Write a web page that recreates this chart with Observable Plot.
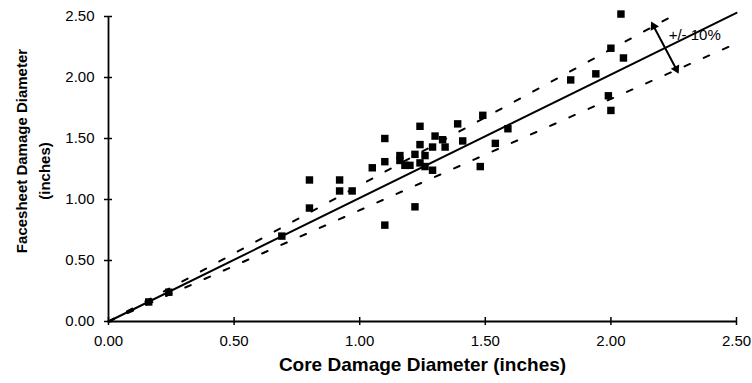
<!DOCTYPE html>
<html><head><meta charset="utf-8">
<script src="https://cdn.jsdelivr.net/npm/d3@7"></script>
<script src="https://cdn.jsdelivr.net/npm/@observablehq/plot@0.6"></script>
<style>body{margin:0;background:#fff} svg{display:block}</style>
</head><body><div id="chart"></div>
<script>
// Measured damage diameters (inches)
const coreDiameter = [0.16, 0.24, 0.69, 0.80, 0.80, 0.92, 0.92, 0.97, 1.05, 1.10, 1.10, 1.10,
  1.16, 1.16, 1.18, 1.20, 1.22, 1.22, 1.24, 1.24, 1.24, 1.26, 1.26, 1.30, 1.29, 1.29,
  1.33, 1.34, 1.39, 1.41, 1.48, 1.49, 1.54, 1.59, 1.84, 1.94, 1.99, 2.00, 2.00, 2.04, 2.05];
const facesheetDiameter = [0.16, 0.24, 0.70, 1.16, 0.93, 1.16, 1.07, 1.07, 1.26, 1.50, 1.31, 0.79,
  1.36, 1.32, 1.28, 1.28, 1.37, 0.94, 1.60, 1.45, 1.30, 1.27, 1.36, 1.52, 1.43, 1.24,
  1.49, 1.43, 1.62, 1.48, 1.27, 1.69, 1.46, 1.58, 1.98, 2.03, 1.85, 1.73, 2.24, 2.52, 2.16];

// Reference line and +/- 10% band
const fitX = [0, 2.5];
const fitY = [0, 2.53];
const upperX = [0, 2.25];
const upperY = [0, 2.51];
const lowerX = [0, 2.5];
const lowerY = [0, 2.28];

// Band annotation arrow (ends on the dashed lines)
const arrowX = [2.17, 2.26];
const arrowY = [2.42, 2.07];
const arrowRotate = [-27, 153];
const bandLabel = "+/- 10%";
const bandLabelX = 2.23;
const bandLabelY = 2.35;

const xTicks = [0, 0.5, 1.0, 1.5, 2.0, 2.5];
const yTicks = [0, 0.5, 1.0, 1.5, 2.0, 2.5];
const xTitle = "Core Damage Diameter (inches)";
const yTitleLines = ["Facesheet Damage Diameter", "(inches)"];

const points = coreDiameter.map((x, i) => ({x, y: facesheetDiameter[i]}));
const toXY = (xs, ys) => xs.map((x, i) => ({x, y: ys[i]}));
const fmt = d3.format(".2f");

const plot = Plot.plot({
  width: 752, height: 383,
  marginLeft: 108, marginRight: 16, marginTop: 16, marginBottom: 62,
  x: {domain: [0, 2.5]},
  y: {domain: [0, 2.5]},
  style: {fontFamily: "'Liberation Sans', Arial, Helvetica, sans-serif", color: "#000", background: "#fff", overflow: "visible"},
  marks: [
    Plot.ruleY([0], {strokeWidth: 1.8}),
    Plot.ruleX([0], {strokeWidth: 1.8}),
    Plot.axisX({ticks: xTicks, tickSize: 8, dy: -4, tickPadding: 10, tickFormat: fmt, fontSize: 15, strokeWidth: 1.5, label: null}),
    Plot.axisY({ticks: yTicks, tickSize: 8, dx: 4, tickPadding: 10, tickFormat: fmt, fontSize: 15, strokeWidth: 1.5, label: null}),
    Plot.line(toXY(fitX, fitY), {x: "x", y: "y", stroke: "#000", strokeWidth: 2}),
    Plot.line(toXY(upperX, upperY), {x: "x", y: "y", stroke: "#000", strokeWidth: 2, strokeDasharray: "6,15"}),
    Plot.line(toXY(lowerX, lowerY), {x: "x", y: "y", stroke: "#000", strokeWidth: 2, strokeDasharray: "6,15"}),
    Plot.dot(points, {x: "x", y: "y", symbol: "square", r: 4.2, fill: "#000", stroke: null}),
    Plot.line(toXY(arrowX, arrowY), {x: "x", y: "y", stroke: "#000", strokeWidth: 2}),
    Plot.dot(arrowX.map((x, i) => ({x, y: arrowY[i], r: arrowRotate[i]})), {x: "x", y: "y", rotate: "r", symbol: "triangle2", r: 4.5, fill: "#000", stroke: null}),
    Plot.text([{x: bandLabelX, y: bandLabelY, t: bandLabel}], {x: "x", y: "y", text: "t", textAnchor: "start", fontSize: 15, fill: "#000"}),
    Plot.text([xTitle], {frameAnchor: "bottom", dy: 49, fontWeight: "bold", fontSize: 19, fill: "#000"}),
    Plot.text([yTitleLines[0]], {frameAnchor: "left", textAnchor: "middle", dx: -86, dy: -18, rotate: -90, fontWeight: "bold", fontSize: 15, fill: "#000"}),
    Plot.text([yTitleLines[1]], {frameAnchor: "left", textAnchor: "middle", dx: -63, dy: 2, rotate: -90, fontWeight: "bold", fontSize: 15, fill: "#000"})
  ]
});
document.getElementById("chart").appendChild(plot);
</script>
</body></html>
